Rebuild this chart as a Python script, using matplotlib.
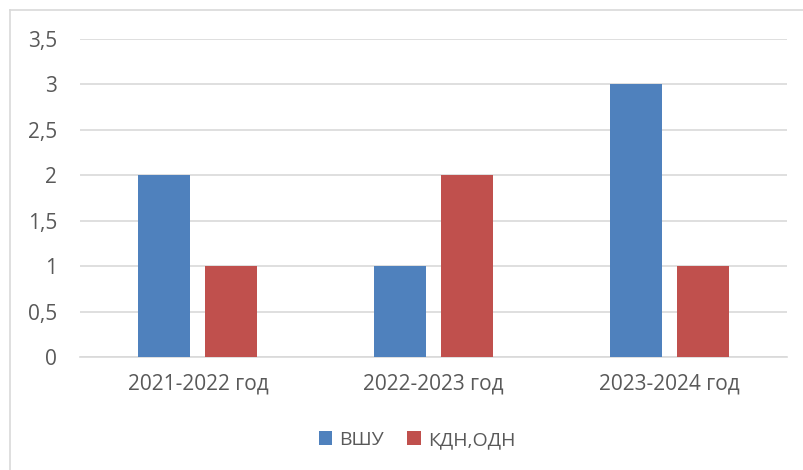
import numpy as np
import matplotlib.pyplot as plt
from matplotlib.lines import Line2D
from matplotlib.ticker import FuncFormatter

# data
categories = ["2021-2022 год", "2022-2023 год", "2023-2024 год"]
vshu = [2, 1, 3]
kdn_odn = [1, 2, 1]
series_names = ["ВШУ", "КДН,ОДН"]

plt.rcParams['font.family'] = ['Open Sans', 'DejaVu Sans']
text_color = "#595959"

fig = plt.figure(figsize=(8.04, 4.70), dpi=100)
ax = fig.add_axes([80 / 804, 1 - 357 / 470, 707 / 804, 318 / 470])

x = np.arange(len(categories))
w = 0.22
ax.bar(x - 0.142, vshu, w, color="#4F81BD", label=series_names[0], zorder=3)
ax.bar(x + 0.142, kdn_odn, w, color="#C0504D", label=series_names[1], zorder=3)

ax.set_xlim(-0.5, 2.5)
ax.set_ylim(0, 3.5)
ax.set_yticks(np.arange(0, 3.51, 0.5))
ax.yaxis.set_major_formatter(FuncFormatter(lambda v, p: ("%g" % v).replace(".", ",")))
ax.set_xticks(x)
ax.set_xticklabels(categories)
ax.grid(axis="y", color="#D9D9D9", linewidth=1.2, zorder=0)
for s in ["top", "right", "left"]:
    ax.spines[s].set_visible(False)
ax.spines["bottom"].set_color("#D9D9D9")
ax.spines["bottom"].set_linewidth(1.2)
ax.tick_params(axis="both", length=0, labelsize=15, colors=text_color)
ax.tick_params(axis="y", pad=16.5)
ax.tick_params(axis="x", pad=12)

ax.legend(loc="center", bbox_to_anchor=(417 / 804, 1 - 440 / 470), bbox_transform=fig.transFigure,
          ncol=2, frameon=False, fontsize=14, labelcolor=text_color,
          handlelength=0.7, handleheight=0.7, handletextpad=0.36, columnspacing=1.2)

# chart frame (left and top edges visible)
fig.add_artist(Line2D([10 / 804, 10 / 804], [0, 1 - 10 / 470], transform=fig.transFigure,
                      color="#D9D9D9", linewidth=1.2))
fig.add_artist(Line2D([10 / 804, 1], [1 - 10 / 470, 1 - 10 / 470], transform=fig.transFigure,
                      color="#D9D9D9", linewidth=1.2))

plt.savefig("out.png", dpi=100)
